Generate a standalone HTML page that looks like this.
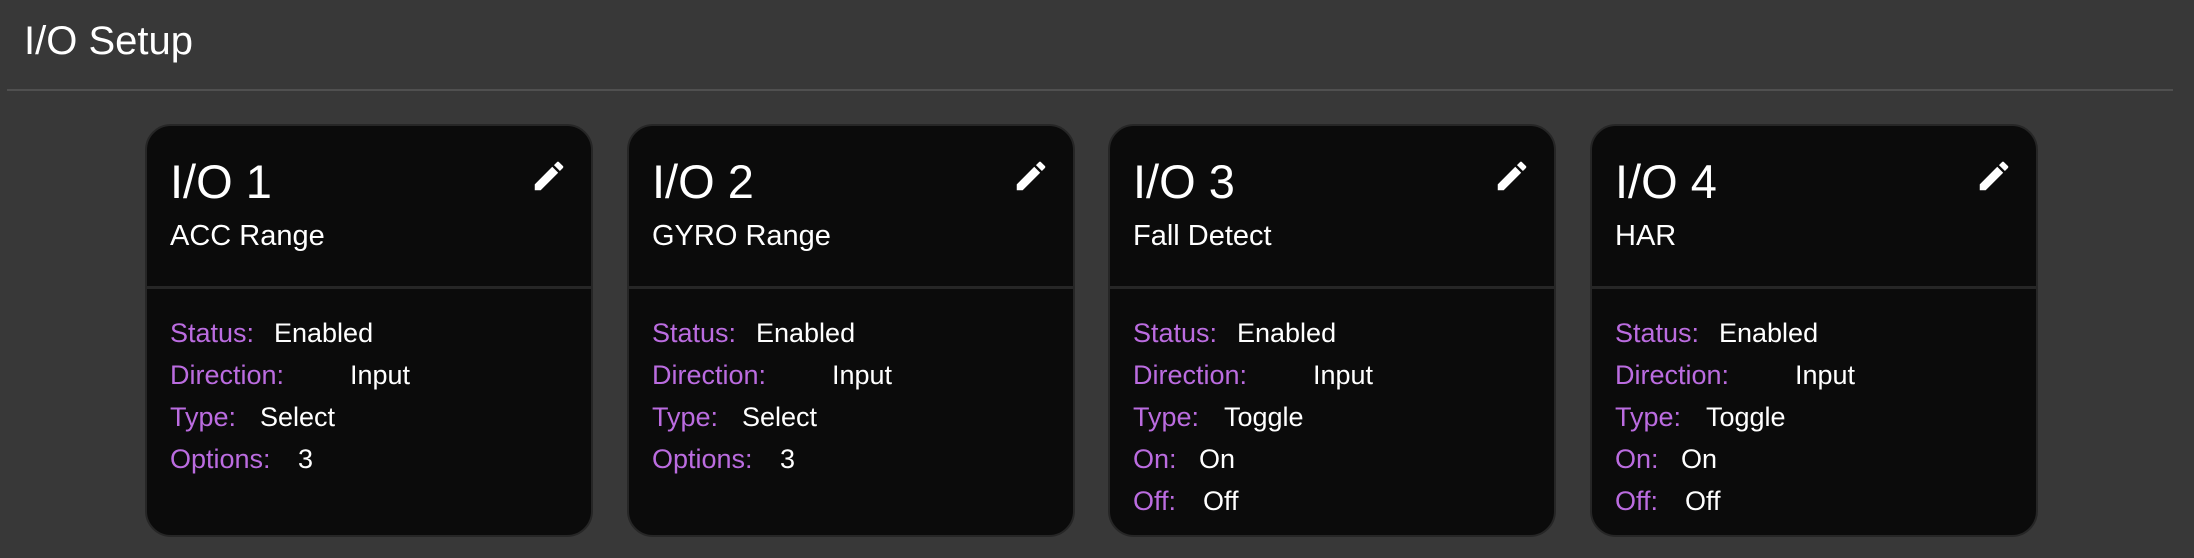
<!DOCTYPE html>
<html><head><meta charset="utf-8"><style>
*{margin:0;padding:0;box-sizing:border-box}
body{width:2194px;height:558px;background:#383838;font-family:"Liberation Sans",sans-serif;position:relative;overflow:hidden;color:#fff}
.h{position:absolute;left:24px;top:18px;font-size:40px;line-height:46px;color:#fff}
.hr{position:absolute;left:7px;top:89px;width:2166px;height:2px;background:#505050}
.card{position:absolute;top:124px;width:448px;height:413px;background:#0b0b0b;border:2px solid #262626;border-radius:26px}
.t{position:absolute;left:23px;top:28px;font-size:47px;line-height:56px}
.s{position:absolute;left:23px;top:92px;font-size:29px;line-height:36px}
.d{position:absolute;left:0;right:0;top:160px;height:3px;background:#262626}
.pen{position:absolute;left:383px;top:31px;width:38px;height:38px}
.r{position:absolute;left:23px;font-size:27px;line-height:32px;white-space:nowrap}
.r b{font-weight:normal;color:#bb6ce0}
.r i{font-style:normal;position:absolute;top:0}
</style></head><body>
<div class="h">I/O Setup</div>
<div class="hr"></div>

<div class="card" style="left:145px">
<div class="t">I/O 1</div><div class="s">ACC Range</div><div class="d"></div>
<svg class="pen" viewBox="0 0 24 24"><path fill="#fff" d="M3 17.25V21h3.75L17.81 9.94l-3.75-3.75L3 17.25zM20.71 7.04a1 1 0 0 0 0-1.41l-2.34-2.34a1 1 0 0 0-1.41 0l-1.83 1.83 3.75 3.75 1.83-1.83z"/></svg>
<div class="r" style="top:191px"><b>Status:</b><i style="left:104px">Enabled</i></div>
<div class="r" style="top:233px"><b>Direction:</b><i style="left:180px">Input</i></div>
<div class="r" style="top:275px"><b>Type:</b><i style="left:90px">Select</i></div>
<div class="r" style="top:317px"><b>Options:</b><i style="left:128px">3</i></div>
</div>

<div class="card" style="left:627px">
<div class="t">I/O 2</div><div class="s">GYRO Range</div><div class="d"></div>
<svg class="pen" viewBox="0 0 24 24"><path fill="#fff" d="M3 17.25V21h3.75L17.81 9.94l-3.75-3.75L3 17.25zM20.71 7.04a1 1 0 0 0 0-1.41l-2.34-2.34a1 1 0 0 0-1.41 0l-1.83 1.83 3.75 3.75 1.83-1.83z"/></svg>
<div class="r" style="top:191px"><b>Status:</b><i style="left:104px">Enabled</i></div>
<div class="r" style="top:233px"><b>Direction:</b><i style="left:180px">Input</i></div>
<div class="r" style="top:275px"><b>Type:</b><i style="left:90px">Select</i></div>
<div class="r" style="top:317px"><b>Options:</b><i style="left:128px">3</i></div>
</div>

<div class="card" style="left:1108px">
<div class="t">I/O 3</div><div class="s">Fall Detect</div><div class="d"></div>
<svg class="pen" viewBox="0 0 24 24"><path fill="#fff" d="M3 17.25V21h3.75L17.81 9.94l-3.75-3.75L3 17.25zM20.71 7.04a1 1 0 0 0 0-1.41l-2.34-2.34a1 1 0 0 0-1.41 0l-1.83 1.83 3.75 3.75 1.83-1.83z"/></svg>
<div class="r" style="top:191px"><b>Status:</b><i style="left:104px">Enabled</i></div>
<div class="r" style="top:233px"><b>Direction:</b><i style="left:180px">Input</i></div>
<div class="r" style="top:275px"><b>Type:</b><i style="left:91px">Toggle</i></div>
<div class="r" style="top:317px"><b>On:</b><i style="left:66px">On</i></div>
<div class="r" style="top:359px"><b>Off:</b><i style="left:70px">Off</i></div>
</div>

<div class="card" style="left:1590px">
<div class="t">I/O 4</div><div class="s">HAR</div><div class="d"></div>
<svg class="pen" viewBox="0 0 24 24"><path fill="#fff" d="M3 17.25V21h3.75L17.81 9.94l-3.75-3.75L3 17.25zM20.71 7.04a1 1 0 0 0 0-1.41l-2.34-2.34a1 1 0 0 0-1.41 0l-1.83 1.83 3.75 3.75 1.83-1.83z"/></svg>
<div class="r" style="top:191px"><b>Status:</b><i style="left:104px">Enabled</i></div>
<div class="r" style="top:233px"><b>Direction:</b><i style="left:180px">Input</i></div>
<div class="r" style="top:275px"><b>Type:</b><i style="left:91px">Toggle</i></div>
<div class="r" style="top:317px"><b>On:</b><i style="left:66px">On</i></div>
<div class="r" style="top:359px"><b>Off:</b><i style="left:70px">Off</i></div>
</div>
</body></html>
